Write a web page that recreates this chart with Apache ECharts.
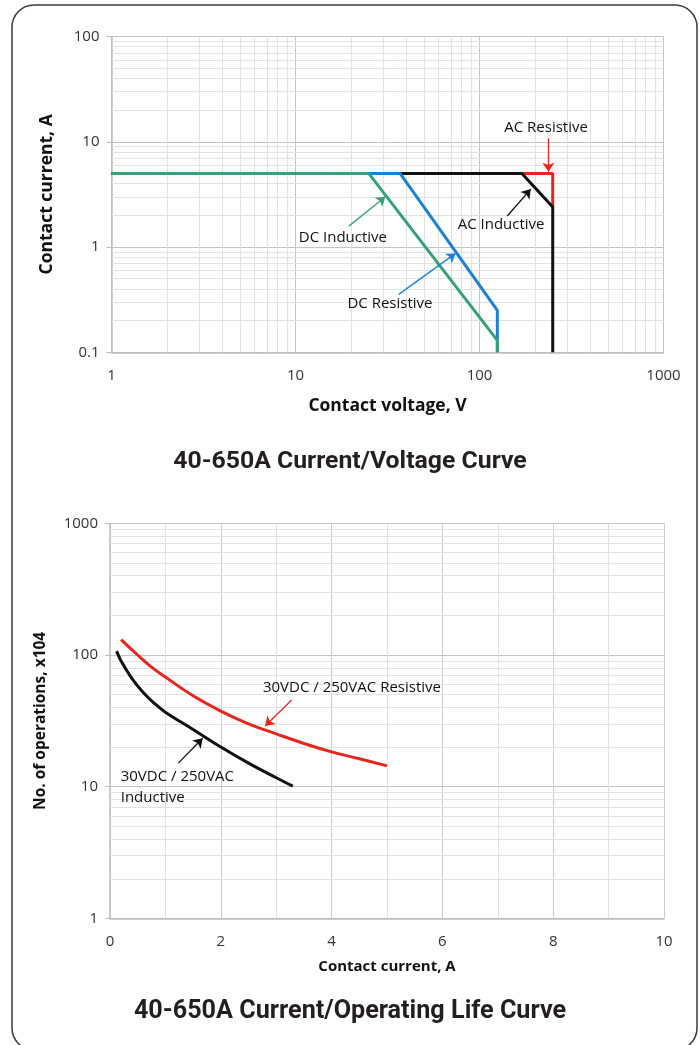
<!DOCTYPE html>
<html>
<head>
<meta charset="utf-8">
<script src="https://cdn.jsdelivr.net/npm/echarts@6/dist/echarts.min.js"></script>
<style>
html,body{margin:0;padding:0;background:#fff;}
#c{width:700px;height:1045px;}
</style>
</head>
<body>
<div id="c"></div>
<script>
// ---------- Top chart: current / voltage ----------
const topTitle = '40-650A Current/Voltage Curve';
const topXName = 'Contact voltage, V';
const topYName = 'Contact current, A';
// [voltage V, current A]
const acResistive = [[1, 5], [250, 5], [250, 2.4]];
const acInductive = [[1, 5], [170, 5], [250, 2.4], [250, 0.1]];
const dcResistive = [[1, 5], [37, 5], [125, 0.25], [125, 0.1]];
const dcInductive = [[1, 5], [25, 5], [125, 0.13], [125, 0.1]];
const topMinorX = [2,3,4,5,6,7,8,9,20,30,40,50,60,70,80,90,200,300,400,500,600,700,800,900];
const topMinorY = [0.2,0.3,0.4,0.5,0.6,0.7,0.8,0.9,2,3,4,5,6,7,8,9,20,30,40,50,60,70,80,90];
// annotation labels [text, x, y]
const topLabels = [
  ['AC Resistive', 230, 13.5],
  ['AC Inductive', 131, 1.62],
  ['DC Inductive', 18.1, 1.22],
  ['DC Resistive', 32.6, 0.287]
];
// arrows [from, to, colour key]
const topArrows = [
  [[237, 10.8], [237, 5.2], 'red'],
  [[141.5, 1.97], [190, 3.55], 'black'],
  [[19.5, 1.58], [30.8, 3.0], 'green'],
  [[36.4, 0.355], [74.1, 0.87], 'blue']
];

// ---------- Bottom chart: current / operating life ----------
const botTitle = '40-650A Current/Operating Life Curve';
const botXName = 'Contact current, A';
const botYName = 'No. of operations, x104';
// [current A, operations x10^4]
const resistiveLife = [[0.2, 131], [0.5, 100], [0.75, 81], [1, 68], [1.5, 49], [2, 37.5], [2.5, 30], [3, 25.2], [3.5, 21.3], [4, 18.4], [4.5, 16.3], [5, 14.4]];
const inductiveLife = [[0.12, 107], [0.2, 90], [0.4, 66], [0.6, 52], [0.8, 43], [1, 36.8], [1.5, 27.2], [2, 20], [2.5, 15.1], [3, 11.7], [3.3, 10.1]];
const botMinorY = [2,3,4,5,6,7,8,9,20,30,40,50,60,70,80,90,200,300,400,500,600,700,800,900];
const botLabels = [
  ['30VDC / 250VAC Resistive', 2.76, 56.2, 'left'],
  ['30VDC / 250VAC\nInductive', 0.193, 9.88, 'left']
];
const botArrows = [
  [[3.28, 45.5], [2.8, 28.9], 'red'],
  [[1.233, 15.1], [1.673, 23.3], 'black']
];

const COL = {red: '#e5261f', black: '#111111', blue: '#1e80d0', green: '#36a077'};
const FONT = 'Open Sans';
const majorGrid = '#c4c4c4';
const minorGrid = '#e2e2e2';

function gridLines(xs, ys) {
  const d = [];
  xs.forEach(v => d.push({xAxis: v}));
  ys.forEach(v => d.push({yAxis: v}));
  return d;
}
function arrows(list) {
  return list.map(a => [
    {coord: a[0], lineStyle: {color: COL[a[2]], width: 1.3, type: 'solid'}, itemStyle: {color: COL[a[2]]}},
    {coord: a[1]}
  ]);
}
function labels(list) {
  return list.map(l => ({
    coord: [l[1], l[2]],
    value: 0,
    label: {show: true, formatter: l[0], position: 'inside', align: l[3] || 'center', verticalAlign: 'middle',
            color: '#111', fontFamily: FONT, fontSize: 15, lineHeight: 21.5}
  }));
}
function curve(name, data, color, xi, z, smooth) {
  return {
    type: 'line', name, data, xAxisIndex: xi, yAxisIndex: xi, symbol: 'none', smooth: smooth || false,
    lineStyle: {color, width: 3}, z, animation: false, silent: true
  };
}
const plainNum = v => String(v);
const axisLabelStyle = {color: '#333', fontFamily: FONT, fontSize: 15, formatter: plainNum};

const option = {
  animation: false,
  title: [
    {text: topTitle, left: 'center', top: 444, textStyle: {fontFamily: 'Roboto', fontWeight: 'bold', fontSize: 24.8, color: '#231f20'}},
    {text: botTitle, left: 'center', top: 994, textStyle: {fontFamily: 'Roboto', fontWeight: 'bold', fontSize: 25.2, color: '#231f20'}}
  ],
  graphic: [{
    type: 'rect', shape: {x: 12, y: 5, width: 685, height: 1045, r: 22},
    style: {fill: 'none', stroke: '#3a3a3a', lineWidth: 1.5}, silent: true, z: 100
  }],
  grid: [
    {left: 111.5, right: 36.5, top: 36.5, height: 315.8},
    {left: 110, right: 36, top: 523.3, height: 395.1}
  ],
  xAxis: [
    {
      type: 'log', logBase: 10, min: 1, max: 1000, gridIndex: 0,
      name: topXName, nameLocation: 'middle', nameGap: 45,
      nameTextStyle: {fontFamily: FONT, fontWeight: 'bold', fontSize: 17.5, color: '#111'},
      axisLine: {show: true, lineStyle: {color: '#bdbdbd', width: 1.5}},
      axisTick: {show: false},
      axisLabel: Object.assign({margin: 16}, axisLabelStyle),
      splitLine: {show: true, lineStyle: {color: majorGrid, width: 1}}
    },
    {
      type: 'value', min: 0, max: 10, interval: 2, gridIndex: 1,
      name: botXName, nameLocation: 'middle', nameGap: 41,
      nameTextStyle: {fontFamily: FONT, fontWeight: 'bold', fontSize: 15, color: '#111'},
      axisLine: {show: true, lineStyle: {color: '#bdbdbd', width: 1.5}},
      axisTick: {show: false},
      axisLabel: Object.assign({margin: 16}, axisLabelStyle),
      splitLine: {show: true, lineStyle: {color: '#cdcdcd', width: 1}},
      minorTick: {show: false, splitNumber: 2},
      minorSplitLine: {show: true, lineStyle: {color: minorGrid, width: 1}}
    }
  ],
  yAxis: [
    {
      type: 'log', logBase: 10, min: 0.1, max: 100, gridIndex: 0,
      name: topYName, nameLocation: 'middle', nameGap: 55, nameRotate: 90,
      nameTextStyle: {fontFamily: FONT, fontWeight: 'bold', fontSize: 17.5, color: '#111'},
      axisLine: {show: true, lineStyle: {color: '#bdbdbd', width: 1.5}},
      axisTick: {show: true, length: 5, lineStyle: {color: '#bdbdbd'}},
      axisLabel: Object.assign({margin: 12}, axisLabelStyle),
      splitLine: {show: true, lineStyle: {color: majorGrid, width: 1}}
    },
    {
      type: 'log', logBase: 10, min: 1, max: 1000, gridIndex: 1,
      name: botYName, nameLocation: 'middle', nameGap: 61, nameRotate: 90,
      nameTextStyle: {fontFamily: FONT, fontWeight: 'bold', fontSize: 15.5, color: '#111'},
      axisLine: {show: true, lineStyle: {color: '#bdbdbd', width: 1.5}},
      axisTick: {show: true, length: 5, lineStyle: {color: '#bdbdbd'}},
      axisLabel: Object.assign({margin: 12}, axisLabelStyle),
      splitLine: {show: true, lineStyle: {color: majorGrid, width: 1}}
    }
  ],
  series: [
    {
      type: 'line', data: [], xAxisIndex: 0, yAxisIndex: 0, z: 1, silent: true,
      markLine: {silent: true, z: 1, symbol: 'none', label: {show: false}, animation: false,
        lineStyle: {color: minorGrid, width: 1, type: 'solid'}, data: gridLines(topMinorX, topMinorY)}
    },
    {
      type: 'line', data: [], xAxisIndex: 1, yAxisIndex: 1, z: 1, silent: true,
      markLine: {silent: true, z: 1, symbol: 'none', label: {show: false}, animation: false,
        lineStyle: {color: minorGrid, width: 1, type: 'solid'}, data: gridLines([], botMinorY)}
    },
    curve('AC Resistive', acResistive, COL.red, 0, 3),
    curve('AC Inductive', acInductive, COL.black, 0, 4),
    curve('DC Resistive', dcResistive, COL.blue, 0, 5),
    curve('DC Inductive', dcInductive, COL.green, 0, 6),
    curve('30VDC / 250VAC Resistive', resistiveLife, COL.red, 1, 3, 0.4),
    curve('30VDC / 250VAC Inductive', inductiveLife, COL.black, 1, 4, 0.4),
    {
      type: 'line', data: [], xAxisIndex: 0, yAxisIndex: 0, z: 8, silent: true,
      markLine: {silent: true, z: 8, symbol: ['none', 'arrow'], symbolSize: 9, label: {show: false}, animation: false,
        data: arrows(topArrows)},
      markPoint: {silent: true, z: 8, symbol: 'circle', symbolSize: 0, animation: false, data: labels(topLabels)}
    },
    {
      type: 'line', data: [], xAxisIndex: 1, yAxisIndex: 1, z: 8, silent: true,
      markLine: {silent: true, z: 8, symbol: ['none', 'arrow'], symbolSize: 9, label: {show: false}, animation: false,
        data: arrows(botArrows)},
      markPoint: {silent: true, z: 8, symbol: 'circle', symbolSize: 0, animation: false, data: labels(botLabels)}
    }
  ]
};

const chart = echarts.init(document.getElementById('c'), null, {renderer: 'canvas'});
chart.setOption(option);
</script>
</body>
</html>
